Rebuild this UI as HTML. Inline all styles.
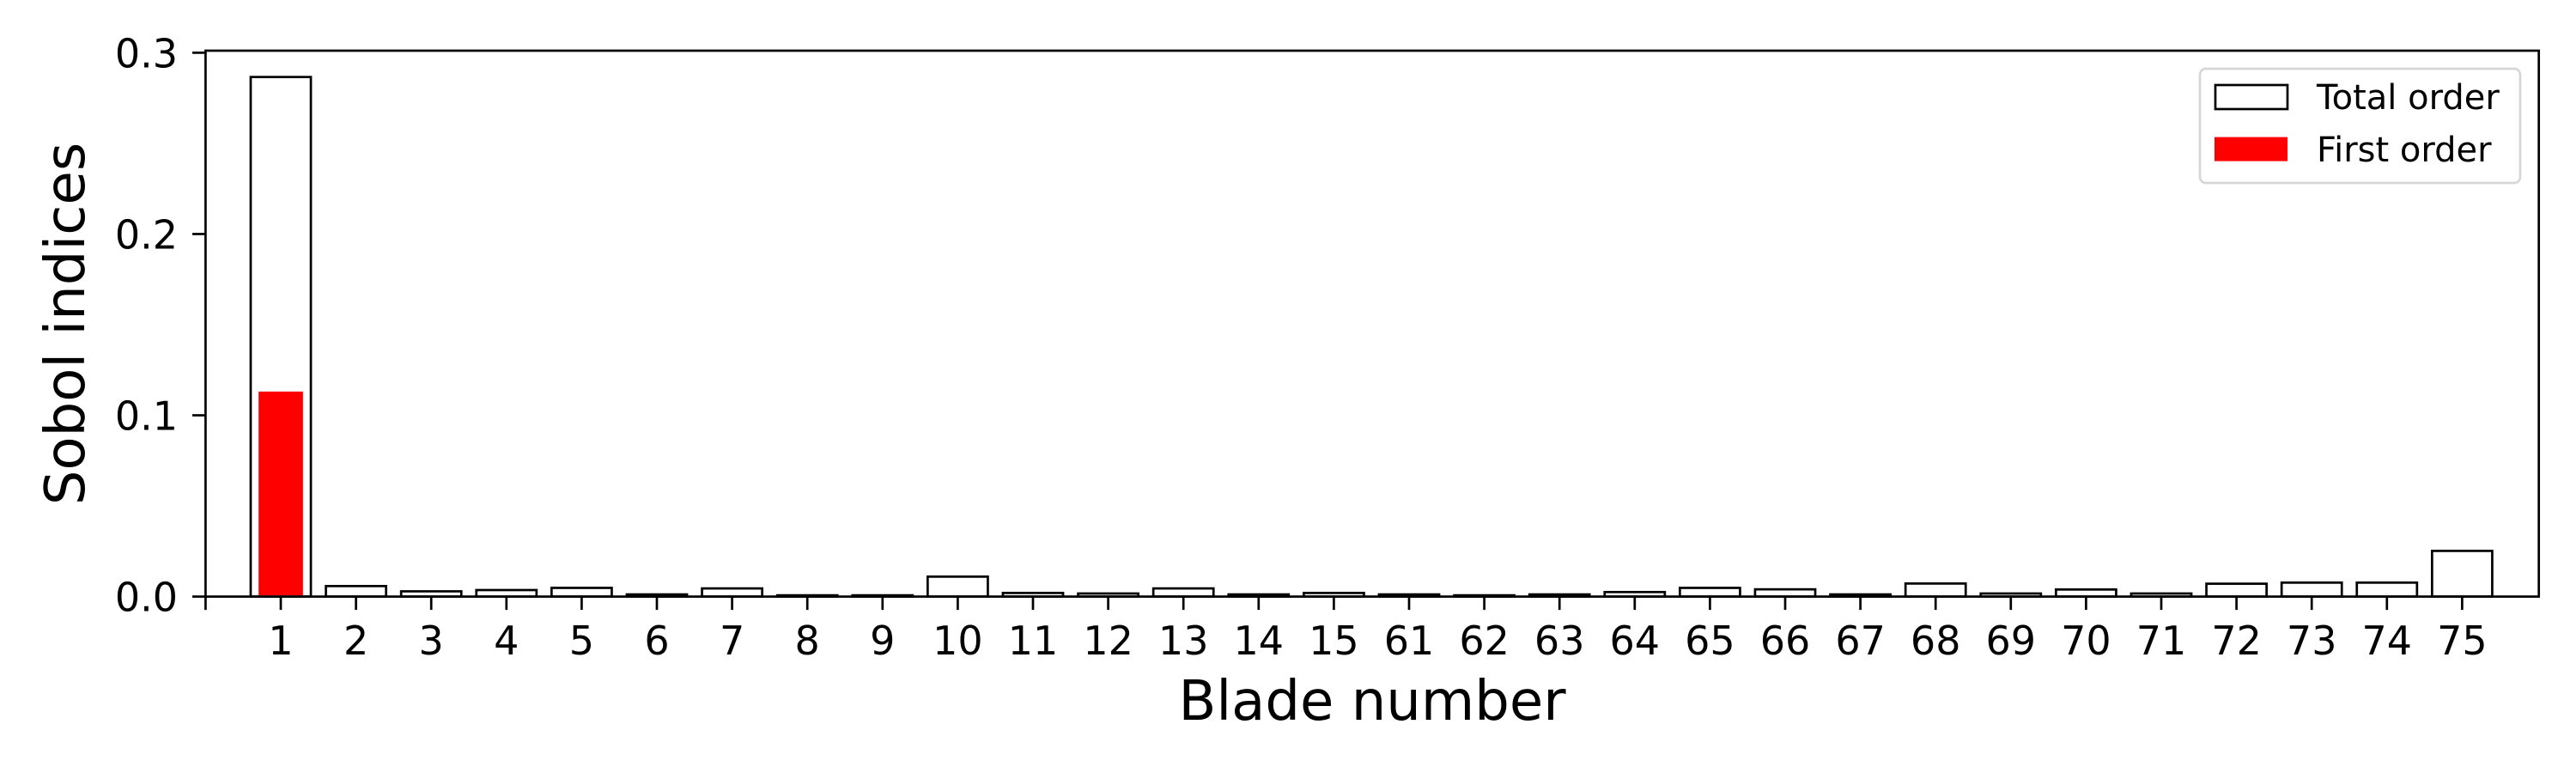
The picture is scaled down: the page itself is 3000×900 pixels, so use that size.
<!DOCTYPE html>
<html><head><meta charset="utf-8"><style>
html,body{margin:0;padding:0;background:#fff;}
svg{display:block;}
text{font-family:"DejaVu Sans","Liberation Sans",sans-serif;fill:#000;}
</style></head><body>
<svg id="chart" width="3000" height="900" viewBox="0 0 3000 900" xmlns="http://www.w3.org/2000/svg">
<rect width="3000" height="900" fill="#fff"/>
<g id="bars"></g>
<g id="xticks"></g>
<g id="yticks"></g>
<rect x="239.4" y="59" width="2717.3" height="635.6" fill="none" stroke="#000" stroke-width="2.7"/>
<text x="1598" y="838" font-size="64" text-anchor="middle">Blade number</text>
<text transform="translate(98,377) rotate(-90)" font-size="64" text-anchor="middle">Sobol indices</text>
<g>
<rect x="2562" y="80" width="373" height="133" rx="7" fill="#fff" stroke="#d6d6d6" stroke-width="2.7"/>
<rect x="2580" y="99" width="84" height="28" fill="#fff" stroke="#000" stroke-width="2.7"/>
<text x="2698" y="127" font-size="40">Total order</text>
<rect x="2579" y="159.6" width="85" height="28" fill="#ff0000"/>
<text x="2698" y="188" font-size="40">First order</text>
</g>
</svg>
<script>
const categories = ["1","2","3","4","5","6","7","8","9","10","11","12","13","14","15","61","62","63","64","65","66","67","68","69","70","71","72","73","74","75"];
const totalOrder = [0.2866,0.0058,0.0029,0.0036,0.0048,0.0012,0.0045,0.0007,0.0007,0.011,0.002,0.0017,0.0045,0.0012,0.002,0.0012,0.0007,0.0012,0.0025,0.0048,0.004,0.0012,0.0072,0.0017,0.0039,0.0017,0.0071,0.0077,0.0077,0.0252];
const firstOrder = [0.1131,0,0,0,0,0,0,0,0,0,0,0,0,0,0,0,0,0,0,0,0,0,0,0,0,0,0,0,0,0];
const yTicks = [0.0,0.1,0.2,0.3];
const yTickLabels = ["0.0","0.1","0.2","0.3"];

const NS = "http://www.w3.org/2000/svg";
const x0 = 327, step = 87.6;
function xPos(i){ return x0 + i*step; }
const yZero = 694.6, yPer = 2110.7;
function yPos(v){ return yZero - v*yPer; }

const barsG = document.getElementById('bars');
categories.forEach((c,i)=>{
  const w = 0.8*step, t = totalOrder[i];
  const r = document.createElementNS(NS,'rect');
  r.setAttribute('x', xPos(i)-w/2);
  r.setAttribute('y', yPos(t));
  r.setAttribute('width', w);
  r.setAttribute('height', Math.max(0, yZero - yPos(t)));
  r.setAttribute('fill', '#fff');
  r.setAttribute('stroke', '#000');
  r.setAttribute('stroke-width', '2.7');
  
  
  barsG.appendChild(r);
});
categories.forEach((c,i)=>{
  const f = firstOrder[i];
  if (f <= 0) return;
  const w = 0.59*step;
  const r = document.createElementNS(NS,'rect');
  r.setAttribute('x', xPos(i)-w/2);
  r.setAttribute('y', yPos(f));
  r.setAttribute('width', w);
  r.setAttribute('height', yZero - yPos(f) - 1.4);
  r.setAttribute('fill', '#ff0000');
  
  
  barsG.appendChild(r);
});

const xg = document.getElementById('xticks');
categories.forEach((c,i)=>{
  const l = document.createElementNS(NS,'line');
  l.setAttribute('x1', xPos(i)); l.setAttribute('x2', xPos(i));
  l.setAttribute('y1', yZero); l.setAttribute('y2', yZero+15.5);
  l.setAttribute('stroke', '#000'); l.setAttribute('stroke-width', '2.7');
  
  
  xg.appendChild(l);
  const t = document.createElementNS(NS,'text');
  t.setAttribute('x', xPos(i)); t.setAttribute('y', 762);
  t.setAttribute('font-size', '46'); t.setAttribute('text-anchor', 'middle');
  
  
  t.textContent = c;
  xg.appendChild(t);
});
// left edge tick
(function(){
  const l = document.createElementNS(NS,'line');
  l.setAttribute('x1', 239.4); l.setAttribute('x2', 239.4);
  l.setAttribute('y1', yZero); l.setAttribute('y2', yZero+15.5);
  l.setAttribute('stroke', '#000'); l.setAttribute('stroke-width', '2.7');
  
  
  xg.appendChild(l);
})();

const yg = document.getElementById('yticks');
yTicks.forEach((v,i)=>{
  const l = document.createElementNS(NS,'line');
  l.setAttribute('x1', 224); l.setAttribute('x2', 239.4);
  l.setAttribute('y1', yPos(v)); l.setAttribute('y2', yPos(v));
  l.setAttribute('stroke', '#000'); l.setAttribute('stroke-width', '2.7');
  
  
  yg.appendChild(l);
  const t = document.createElementNS(NS,'text');
  t.setAttribute('x', 207); t.setAttribute('y', yPos(v)+17);
  t.setAttribute('font-size', '46'); t.setAttribute('text-anchor', 'end');
  
  
  t.textContent = yTickLabels[i];
  yg.appendChild(t);
});
</script>
</body></html>
